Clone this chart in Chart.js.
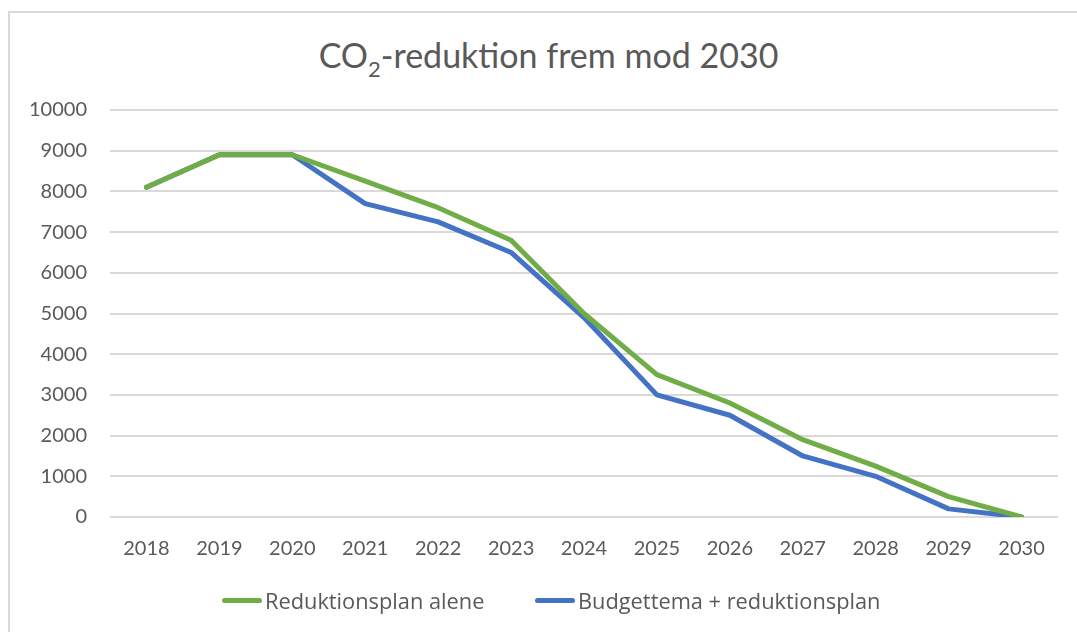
<!DOCTYPE html>
<html>
<head>
<meta charset="utf-8">
<script src="https://cdn.jsdelivr.net/npm/chart.js@4/dist/chart.umd.min.js"></script>
<style>
  html, body { margin: 0; padding: 0; background: #fff; }
  #wrap { position: relative; width: 1077px; height: 632px; overflow: hidden; }
  #frame { position: absolute; left: 8px; top: 11px; right: -5px; bottom: -5px; border-left: 2px solid #d9d9d9; border-top: 2px solid #d9d9d9; }
  #title { position: absolute; left: 20px; width: 1057px; top: 34px; text-align: center; font-family: Lato, "Open Sans", sans-serif; font-size: 34px; color: #595959; white-space: nowrap; }
  #title sub { font-size: 22px; vertical-align: -9px; line-height: 0; }
  canvas { position: absolute; left: 0; top: 0; }
  .leg { position: absolute; top: 586px; font-family: "Open Sans", Lato, sans-serif; font-size: 21.8px; color: #595959; white-space: nowrap; display: flex; align-items: center; }
  .sw { display: inline-block; width: 40px; height: 5px; border-radius: 3px; margin-right: 3px; }
</style>
</head>
<body>
<div id="wrap">
  <div id="frame"></div>
  <div id="title">CO<sub>2</sub>-reduktion frem mod 2030</div>
  <canvas id="c" width="1077" height="632"></canvas>
  <div id="legend"></div>
</div>
<script>
const years = ["2018","2019","2020","2021","2022","2023","2024","2025","2026","2027","2028","2029","2030"];
const reduktionsplanAlene = [8100, 8900, 8900, 8250, 7600, 6800, 5000, 3500, 2800, 1900, 1250, 500, 0];
const budgettemaReduktionsplan = [8100, 8900, 8900, 7700, 7250, 6500, 4900, 3000, 2500, 1500, 1000, 200, 0];
const seriesNames = ["Reduktionsplan alene", "Budgettema + reduktionsplan"];
const seriesColors = ["#70ad47", "#4472c4"];

const font = "Lato, 'Open Sans', sans-serif";
const chart = new Chart(document.getElementById('c'), {
  type: 'line',
  data: {
    labels: years,
    datasets: [
      { label: seriesNames[0], data: reduktionsplanAlene, borderColor: seriesColors[0], backgroundColor: seriesColors[0], borderWidth: 5, pointRadius: 0, tension: 0, borderCapStyle: 'round', borderJoinStyle: 'round' },
      { label: seriesNames[1], data: budgettemaReduktionsplan, borderColor: seriesColors[1], backgroundColor: seriesColors[1], borderWidth: 5, pointRadius: 0, tension: 0, borderCapStyle: 'round', borderJoinStyle: 'round' }
    ]
  },
  options: {
    responsive: false,
    animation: false,
    layout: { padding: { top: 110, left: 10, right: 19, bottom: 65 } },
    plugins: {
      title: { display: false },
      tooltip: { enabled: false },
      legend: { display: false }
    },
    scales: {
      x: {
        offset: true,
        grid: { display: false, drawTicks: false },
        border: { display: false },
        ticks: { font: { family: font, size: 20 }, color: '#595959', padding: 20, maxRotation: 0 },
        afterFit: (s) => { s.height = 50; }
      },
      y: {
        min: 0, max: 10000,
        ticks: { stepSize: 1000, font: { family: font, size: 20 }, color: '#595959', padding: 23,
                 callback: (v) => String(v) },
        grid: { color: '#d9d9d9', lineWidth: 2, drawTicks: false },
        border: { display: false },
        afterFit: (s) => { s.width = 100; }
      }
    }
  }
});

// HTML legend built from the datasets
const legLefts = [222, 535];
const legend = document.getElementById('legend');
chart.data.datasets.forEach((ds, i) => {
  const d = document.createElement('div');
  d.className = 'leg';
  d.style.left = legLefts[i] + 'px';
  const sw = document.createElement('span');
  sw.className = 'sw';
  sw.style.background = ds.borderColor;
  d.appendChild(sw);
  d.appendChild(document.createTextNode(ds.label));
  legend.appendChild(d);
});
</script>
</body>
</html>
